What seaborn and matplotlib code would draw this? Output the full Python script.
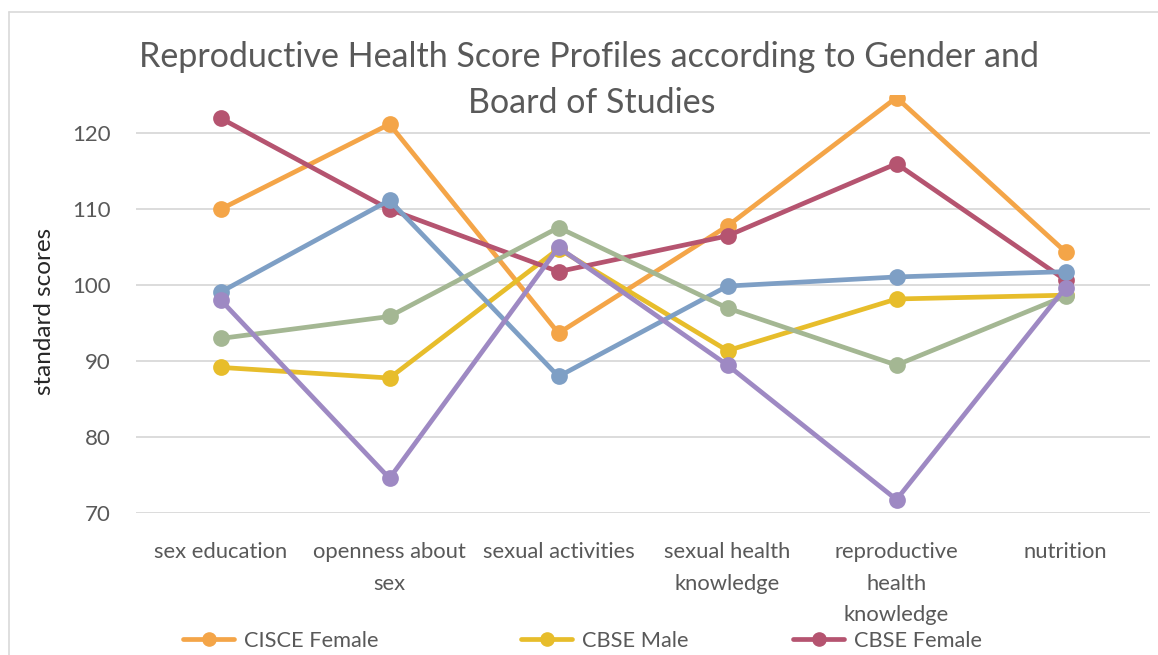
import matplotlib
matplotlib.use("Agg")
import matplotlib.pyplot as plt
import seaborn as sns
import pandas as pd
from matplotlib.lines import Line2D

# ---- data ----
categories = ["sex education", "openness about\nsex", "sexual activities",
              "sexual health\nknowledge", "reproductive\nhealth\nknowledge", "nutrition"]
series_names = ["CISCE Female", "CBSE Male", "CBSE Female",
                "CISCE Male", "State Board Male", "State Board Female"]
cisce_female = [110.0, 121.2, 93.7, 107.8, 124.7, 104.4]
cbse_male = [89.2, 87.8, 104.8, 91.4, 98.2, 98.7]
cbse_female = [122.0, 110.0, 101.8, 106.5, 116.0, 100.7]
cisce_male = [99.1, 111.2, 88.0, 99.9, 101.1, 101.8]
state_male = [93.0, 95.9, 107.6, 97.0, 89.5, 98.6]
state_female = [98.1, 74.6, 105.0, 89.5, 71.8, 99.7]
y_ticks = [70, 80, 90, 100, 110, 120]

colors = ["#F4A548", "#E7BD2B", "#B55470", "#7E9FC5", "#A4B793", "#9E89C3"]

all_values = [cisce_female, cbse_male, cbse_female, cisce_male, state_male, state_female]
rows = []
for name, vals in zip(series_names, all_values):
    for cat, v in zip(categories, vals):
        rows.append({"category": cat, "series": name, "score": v})
df = pd.DataFrame(rows)

sns.set_theme(style="white")
plt.rcParams["font.family"] = ["Lato", "DejaVu Sans"]

W, H = 1158, 655
fig = plt.figure(figsize=(W / 100, H / 100), dpi=100)
ax = fig.add_axes([136 / W, 1 - 513.3 / H, (1150 - 136) / W, (513.3 - 95.3) / H])

ax.yaxis.grid(True, color="#D9D9D9", linewidth=1.3, zorder=0)
ax.set_axisbelow(True)

sns.pointplot(data=df, x="category", y="score", hue="series", order=categories,
              hue_order=series_names, palette=colors, errorbar=None, dodge=False,
              markers="o", markersize=9.5, linewidth=3.4, ax=ax, legend=False)

ax.set_ylim(70, 125)
ax.set_xlim(-0.5, len(categories) - 0.5)
ax.set_yticks(y_ticks)
ax.set_yticklabels([str(t) for t in y_ticks], fontsize=16, color="#595959")
ax.set_xticks(range(len(categories)))
ax.set_xticklabels(categories, fontsize=15.8, color="#595959", linespacing=1.7, va="top")
ax.tick_params(axis="x", length=0, pad=21)
ax.tick_params(axis="y", length=0, pad=18)
for s in ax.spines.values():
    s.set_visible(False)
ax.set_xlabel("")
ax.set_ylabel("")
fig.text(45 / W, 1 - 311 / H, "standard scores", rotation=90, ha="center", va="center",
         fontsize=17.5, color="#262626")

fig.text(589 / W, 1 - 57 / H, "Reproductive Health Score Profiles according to Gender and",
         ha="center", va="center", fontsize=24.5, color="#595959")
fig.text(592 / W, 1 - 103 / H, "Board of Studies",
         ha="center", va="center", fontsize=24.5, color="#595959")

# chart border (left and top edges visible)
fig.add_artist(Line2D([9 / W, 9 / W], [0, 1 - 12 / H], transform=fig.transFigure,
                      color="#D9D9D9", linewidth=1.2))
fig.add_artist(Line2D([9 / W, 1], [1 - 12 / H, 1 - 12 / H], transform=fig.transFigure,
                      color="#D9D9D9", linewidth=1.2))

legend_x = [183, 521, 793]
for c, name, lx in zip(colors[:3], series_names[:3], legend_x):
    h = Line2D([0], [0], color=c, linewidth=3.4, marker="o", markersize=9.5)
    leg = fig.legend([h], [name], loc="center left", bbox_to_anchor=(lx / W, 1 - 641 / H),
                     frameon=False, fontsize=15.7, handlelength=2.35, handletextpad=0.45,
                     labelcolor="#595959", borderaxespad=0, borderpad=0)

fig.savefig("out.png", dpi=100)
